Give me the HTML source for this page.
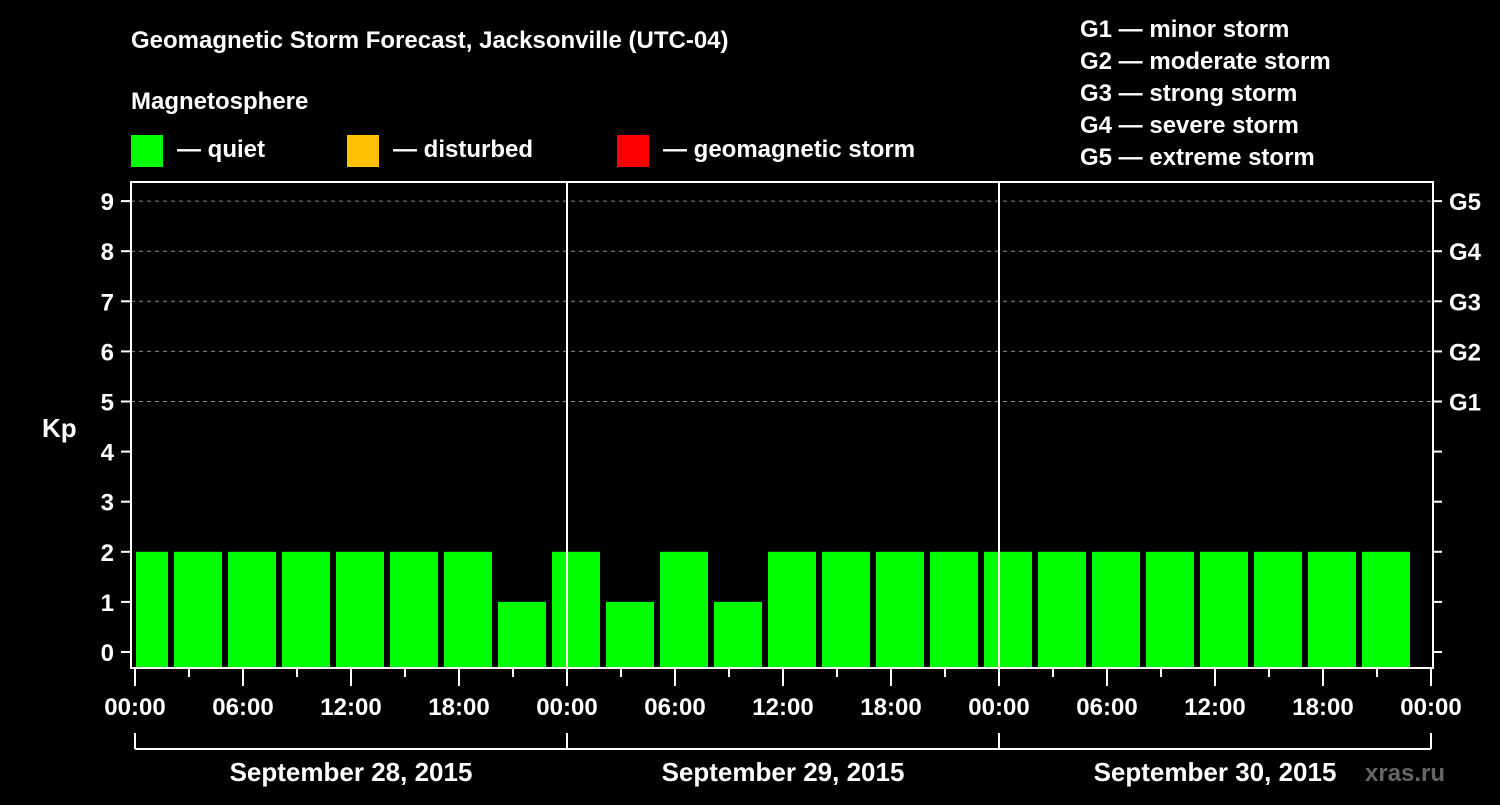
<!DOCTYPE html>
<html><head><meta charset="utf-8"><style>
body{margin:0;background:#000;width:1500px;height:800px;overflow:hidden}
svg text{font-family:"Liberation Sans",Arial,sans-serif;font-weight:bold;fill:#fff}
</style></head><body>
<svg id="c" width="1500" height="800">
<text x="131" y="48" font-size="24">Geomagnetic Storm Forecast, Jacksonville (UTC-04)</text>
<text x="131" y="109" font-size="24">Magnetosphere</text>
<rect x="131" y="135" width="32" height="32" fill="#00ff00"/>
<text x="177" y="157" font-size="24">— quiet</text>
<rect x="347" y="135" width="32" height="32" fill="#ffc000"/>
<text x="393" y="157" font-size="24">— disturbed</text>
<rect x="617" y="135" width="32" height="32" fill="#ff0000"/>
<text x="663" y="157" font-size="24">— geomagnetic storm</text>
<g font-size="24">
<text x="1080" y="37">G1 — minor storm</text>
<text x="1080" y="69">G2 — moderate storm</text>
<text x="1080" y="101">G3 — strong storm</text>
<text x="1080" y="133">G4 — severe storm</text>
<text x="1080" y="165">G5 — extreme storm</text>
</g>
<text x="42" y="437" font-size="26">Kp</text>
<text x="1365" y="781" font-size="24" fill="#666" style="fill:#666">xras.ru</text>
<g id="plot"></g>
</svg>
<script>
const kpValues=[2,2,2,2,2,2,2,2,1,2,1,2,1,2,2,2,2,2,2,2,2,2,2,2,2];
const yTicks=[0,1,2,3,4,5,6,7,8,9];
const gLabels=["G1","G2","G3","G4","G5"];
const gLevels=[5,6,7,8,9];
const xLabels=["00:00","06:00","12:00","18:00","00:00","06:00","12:00","18:00","00:00","06:00","12:00","18:00","00:00"];
const dayLabels=["September 28, 2015","September 29, 2015","September 30, 2015"];
const NS="http://www.w3.org/2000/svg";
const g=document.getElementById('plot');
const X0=135,PH=18,L=131,R=1433,T=182,B=668;
const xs=h=>X0+h*PH, ys=v=>652-50.1*v;
function mk(t,a,txt){const e=document.createElementNS(NS,t);for(const k in a)e.setAttribute(k,a[k]);if(txt!=null)e.textContent=txt;g.appendChild(e);return e;}
// grid
gLevels.forEach(v=>{const e=mk('line',{x1:L,x2:R,y1:ys(v),y2:ys(v),stroke:'#888','stroke-dasharray':'4,4','stroke-width':1});

});
// bars: bin boundaries at local hours -4+3k
kpValues.forEach((v,i)=>{let h0=-4+3*i,h1=h0+3;let x0=Math.max(xs(h0)+3,xs(0)+1),x1=Math.min(xs(h1)-3,xs(72)-3);
const e=mk('rect',{x:x0,y:ys(v),width:x1-x0,height:B-ys(v),fill:'#00ff00'});

});
// day separators
[1,2].forEach(d=>{const e=mk('line',{x1:xs(24*d),x2:xs(24*d),y1:T,y2:B,stroke:'#fff','stroke-width':2});

});
// frame
const fr=mk('rect',{x:L,y:T,width:R-L,height:B-T,fill:'none',stroke:'#fff','stroke-width':2});


// y ticks
yTicks.forEach(v=>{mk('line',{x1:121,x2:L,y1:ys(v),y2:ys(v),stroke:'#fff','stroke-width':2});mk('line',{x1:R,x2:1442,y1:ys(v),y2:ys(v),stroke:'#fff','stroke-width':2});
const t=mk('text',{x:114,y:ys(v)+9,'font-size':24,'text-anchor':'end'},String(v));

});
gLabels.forEach((s,i)=>{const t=mk('text',{x:1449,y:ys(gLevels[i])+9,'font-size':24},s);

});
// x ticks
for(let h=0;h<=72;h+=3){const maj=h%6==0;mk('line',{x1:xs(h),x2:xs(h),y1:B,y2:maj?686:677,stroke:'#fff','stroke-width':2});}
xLabels.forEach((s,i)=>{const t=mk('text',{x:xs(i*6),y:715,'font-size':24,'text-anchor':'middle'},s);

});
// day bracket
mk('line',{x1:xs(0),x2:xs(72),y1:749,y2:749,stroke:'#fff','stroke-width':2});
for(let d=0;d<=3;d++)mk('line',{x1:xs(24*d),x2:xs(24*d),y1:733,y2:749,stroke:'#fff','stroke-width':2});
dayLabels.forEach((s,i)=>{const t=mk('text',{x:xs(24*i+12),y:781,'font-size':26,'text-anchor':'middle'},s);

});
</script>
</body></html>
